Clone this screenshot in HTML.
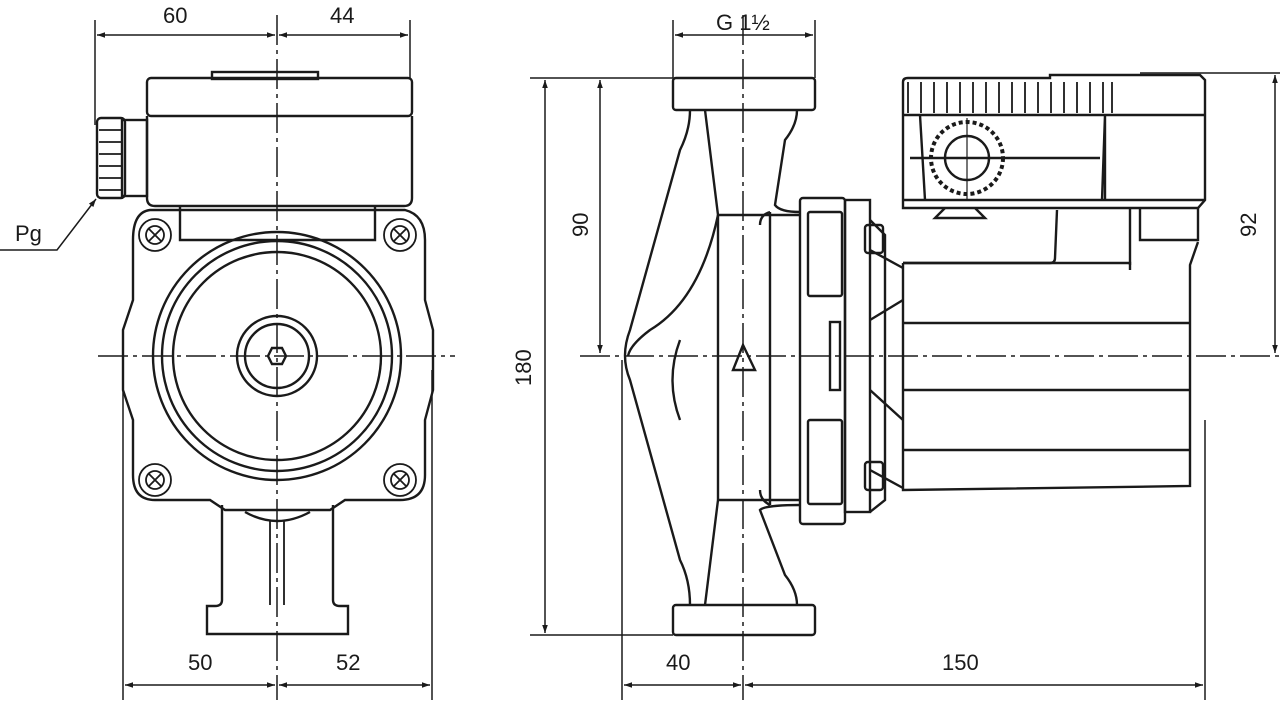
<!DOCTYPE html>
<html><head><meta charset="utf-8"><style>
html,body{margin:0;padding:0;background:#fff}
svg{display:block}
text{font-family:"Liberation Sans",sans-serif;font-size:22px;fill:#1a1a1a}
</style></head><body>
<svg width="1280" height="701" viewBox="0 0 1280 701" xmlns="http://www.w3.org/2000/svg">
<defs>
<marker id="a" viewBox="0 0 10 10" refX="10" refY="5" markerWidth="14" markerHeight="8" orient="auto-start-reverse" markerUnits="userSpaceOnUse"><path d="M0,1.5 L10,5 L0,8.5 Z" fill="#1a1a1a"/></marker>
</defs>
<g stroke="#1a1a1a" fill="none" stroke-width="1.5">
<line x1="95" y1="20" x2="95" y2="125"/>
<line x1="410" y1="20" x2="410" y2="78"/>
<line x1="97" y1="35" x2="275" y2="35" marker-start="url(#a)" marker-end="url(#a)"/>
<line x1="279" y1="35" x2="408" y2="35" marker-start="url(#a)" marker-end="url(#a)"/>
<line x1="123" y1="390" x2="123" y2="700"/>
<line x1="432" y1="370" x2="432" y2="700"/>
<line x1="125" y1="685" x2="275" y2="685" marker-start="url(#a)" marker-end="url(#a)"/>
<line x1="279" y1="685" x2="430" y2="685" marker-start="url(#a)" marker-end="url(#a)"/>
<line x1="277" y1="15" x2="277" y2="700" stroke-dasharray="30,5,4,5"/>
<line x1="98" y1="356" x2="455" y2="356" stroke-dasharray="30,5,4,5"/>
<polyline points="0,250 57,250 96,199" marker-end="url(#a)"/>
<g stroke-width="2.4">
<rect x="147" y="78" width="265" height="38" rx="4"/>
<rect x="212" y="72" width="106" height="7"/>
<path d="M147,116 V198 Q147,206 155,206 H404 Q412,206 412,198 V116"/>
<rect x="122" y="120" width="25" height="76"/>
<rect x="97" y="118" width="28" height="80" rx="4"/>
<path d="M99,130H123M99,142H123M99,154H123M99,166H123M99,178H123M99,190H123" stroke-width="1.8"/>
<path d="M180,206 V240 H375 V206"/>
<path d="M150,210 H405 Q425,215 425,240 V300 L433,330 V390 L425,420 V475 Q425,500 400,500 H345 L330,510 H225 L210,500 H155 Q133,500 133,475 V420 L123,390 V330 L133,300 V240 Q133,212 150,210 Z"/>
<circle cx="277" cy="356" r="124"/>
<circle cx="277" cy="356" r="115"/>
<circle cx="277" cy="356" r="104"/>
<circle cx="277" cy="356" r="40"/>
<circle cx="277" cy="356" r="32"/>
<polygon points="268,356 272,348 282,348 286,356 282,364 272,364"/>
<g stroke-width="1.8">
<circle cx="155" cy="235" r="16"/><circle cx="155" cy="235" r="9"/><path d="M148,228L162,242M162,228L148,242"/>
<circle cx="400" cy="235" r="16"/><circle cx="400" cy="235" r="9"/><path d="M393,228L407,242M407,228L393,242"/>
<circle cx="155" cy="480" r="16"/><circle cx="155" cy="480" r="9"/><path d="M148,473L162,487M162,473L148,487"/>
<circle cx="400" cy="480" r="16"/><circle cx="400" cy="480" r="9"/><path d="M393,473L407,487M407,473L393,487"/>
</g>
<path d="M222,505 V600 Q222,606 215,606 H207 V634 H348 V606 H340 Q333,606 333,600 V505"/>
<path d="M270,520V605M284,520V605" stroke-width="1.8"/>
<path d="M245,512 Q277,530 310,512"/>
</g>
<line x1="530" y1="78" x2="673" y2="78"/>
<line x1="530" y1="635" x2="673" y2="635"/>
<line x1="545" y1="80" x2="545" y2="633" marker-start="url(#a)" marker-end="url(#a)"/>
<line x1="600" y1="80" x2="600" y2="353" marker-start="url(#a)" marker-end="url(#a)"/>
<line x1="673" y1="20" x2="673" y2="78"/>
<line x1="815" y1="20" x2="815" y2="78"/>
<line x1="675" y1="35" x2="813" y2="35" marker-start="url(#a)" marker-end="url(#a)"/>
<line x1="1140" y1="73" x2="1280" y2="73"/>
<line x1="1275" y1="75" x2="1275" y2="353" marker-start="url(#a)" marker-end="url(#a)"/>
<line x1="622" y1="360" x2="622" y2="700"/>
<line x1="1205" y1="420" x2="1205" y2="700"/>
<line x1="624" y1="685" x2="741" y2="685" marker-start="url(#a)" marker-end="url(#a)"/>
<line x1="745" y1="685" x2="1203" y2="685" marker-start="url(#a)" marker-end="url(#a)"/>
<line x1="743" y1="15" x2="743" y2="700" stroke-dasharray="30,5,4,5"/>
<line x1="580" y1="356" x2="1280" y2="356" stroke-dasharray="30,5,4,5"/>
<g stroke-width="2.4">
<rect x="673" y="78" width="142" height="32" rx="3"/>
<rect x="673" y="605" width="142" height="30" rx="3"/>
<path d="M690,110 Q690,130 680,150 L630,330 Q620,356 630,380 L680,560 Q690,580 690,605"/>
<path d="M705,110 L718,215 M705,605 L718,500"/>
<path d="M797,110 Q797,125 785,140 L775,205 Q780,212 800,212 M797,605 Q797,590 785,575 L760,510 Q765,505 800,505"/>
<path d="M718,215 H800 M718,500 H800 M718,215 V500"/>
<path d="M718,215 Q700,300 650,330 Q630,345 628,356"/>
<path d="M680,340 Q665,380 680,420"/>
<polygon points="743,345 733,370 755,370"/>
<path d="M770,212 V505 M770,212 Q760,215 760,225 M770,505 Q760,500 760,490"/>
<rect x="800" y="198" width="45" height="326" rx="3"/>
<rect x="845" y="200" width="25" height="312"/>
<rect x="808" y="212" width="34" height="84" rx="2"/>
<rect x="808" y="420" width="34" height="84" rx="2"/>
<rect x="830" y="322" width="10" height="68"/>
<path d="M870,220 L885,235 V500 L870,512 M870,250 L903,268 M870,470 L903,488"/>
<path d="M870,320 L903,300 M870,390 L903,420"/>
<rect x="865" y="225" width="18" height="28" rx="3"/>
<rect x="865" y="462" width="18" height="28" rx="3"/>
<path d="M903,263 H1130 V270 M903,263 V490 L1190,486 V265 L1198,242 M903,323 H1190 M903,390 H1190 M903,450 H1190"/>
<path d="M903,263 H1050 Q1055,263 1055,258 L1057,210"/>
<path d="M1130,208 V265 M1140,208 V240 H1198 V208"/>
<path d="M903,82 Q903,78 908,78 H1050 V75 H1200 L1205,80 V200 L1198,208 H903 Z"/>
<path d="M903,115 H1205"/>
<path d="M903,200 H1205"/>
<path d="M920,115 L925,200 M1105,115 L1102,200 M1105,115 V200"/>
<path d="M910,158 H1100"/>
<path d="M945,208 L935,218 H985 L975,208"/>
<circle cx="967" cy="158" r="22"/>
<circle cx="967" cy="158" r="36" stroke-dasharray="4,3" stroke-width="4"/>
<line x1="967" y1="118" x2="967" y2="200" stroke-width="1.2"/>
</g>
<g stroke-width="1.8">
<path d="M908,82V113M921,82V113M934,82V113M947,82V113M960,82V113M973,82V113M986,82V113M999,82V113M1012,82V113M1025,82V113M1038,82V113M1051,82V113M1064,82V113M1077,82V113M1090,82V113M1103,82V113M1112,82V113"/>
</g>
</g>
<text x="163" y="23">60</text>
<text x="330" y="23">44</text>
<text x="15" y="241">Pg</text>
<text x="188" y="670">50</text>
<text x="336" y="670">52</text>
<text x="716" y="30">G 1½</text>
<text x="666" y="670">40</text>
<text x="942" y="670">150</text>
<text transform="translate(588,237) rotate(-90)">90</text>
<text transform="translate(531,386) rotate(-90)">180</text>
<text transform="translate(1256,237) rotate(-90)">92</text>
</svg>
</body></html>
